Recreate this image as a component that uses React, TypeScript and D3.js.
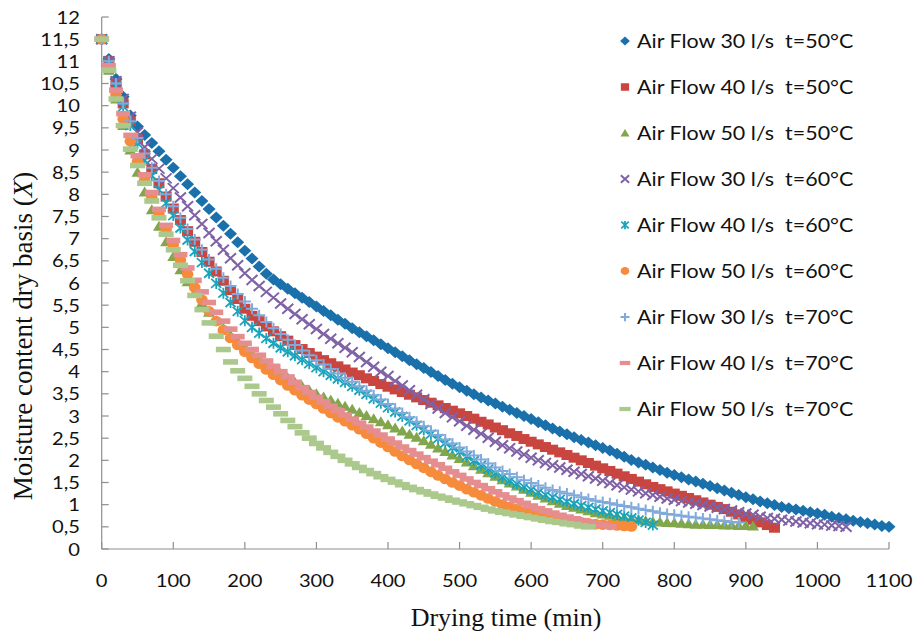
import React from 'react';
import * as d3 from 'd3';

// readings every 10 minutes, starting at t = 0
const STEP = 10;

const xTicks = [0, 100, 200, 300, 400, 500, 600, 700, 800, 900, 1000, 1100];
const yTicks = [0, 0.5, 1, 1.5, 2, 2.5, 3, 3.5, 4, 4.5, 5, 5.5, 6, 6.5, 7, 7.5, 8, 8.5, 9, 9.5, 10, 10.5, 11, 11.5, 12];

const af30t50 = [
  11.5, 11.05, 10.6, 10.2, 9.78, 9.53, 9.34, 9.16, 8.97, 8.78, 8.6, 8.41, 8.23, 8.04, 7.85, 7.67, 7.48, 7.29, 7.11, 6.92,
  6.73, 6.55, 6.37, 6.21, 6.08, 5.97, 5.87, 5.77, 5.67, 5.57, 5.47, 5.37, 5.27, 5.17, 5.08, 4.98, 4.89, 4.8, 4.71, 4.62,
  4.53, 4.44, 4.35, 4.26, 4.17, 4.08, 3.99, 3.9, 3.81, 3.73, 3.65, 3.57, 3.49, 3.42, 3.35, 3.28, 3.21, 3.14, 3.07, 3.0,
  2.93, 2.86, 2.79, 2.72, 2.65, 2.59, 2.52, 2.46, 2.4, 2.34, 2.28, 2.22, 2.15, 2.08, 2.01, 1.95, 1.9, 1.84, 1.78, 1.72,
  1.67, 1.62, 1.57, 1.52, 1.47, 1.42, 1.37, 1.32, 1.27, 1.22, 1.17, 1.12, 1.07, 1.03, 0.99, 0.95, 0.92, 0.89, 0.86, 0.83,
  0.8, 0.77, 0.73, 0.7, 0.67, 0.64, 0.61, 0.58, 0.55, 0.52, 0.5,
];
const af40t50 = [
  11.5, 11.0, 10.5, 10.05, 9.65, 9.25, 8.9, 8.57, 8.25, 7.95, 7.68, 7.42, 7.17, 6.93, 6.7, 6.48, 6.26, 6.05, 5.84, 5.64,
  5.42, 5.26, 5.14, 5.02, 4.91, 4.8, 4.7, 4.6, 4.51, 4.42, 4.34, 4.26, 4.19, 4.12, 4.05, 3.98, 3.92, 3.85, 3.79, 3.72,
  3.66, 3.6, 3.54, 3.48, 3.42, 3.36, 3.3, 3.24, 3.18, 3.12, 3.06, 3.0, 2.94, 2.87, 2.81, 2.74, 2.68, 2.61, 2.55, 2.48,
  2.42, 2.36, 2.3, 2.24, 2.18, 2.12, 2.06, 2.0, 1.94, 1.88, 1.82, 1.76, 1.7, 1.64, 1.58, 1.52, 1.46, 1.4, 1.35, 1.3,
  1.25, 1.2, 1.15, 1.1, 1.05, 1.0, 0.95, 0.9, 0.84, 0.78, 0.72, 0.66, 0.6, 0.54, 0.48,
];
const af50t50 = [
  11.5, 10.8, 10.15, 9.55, 9.0, 8.5, 8.05, 7.65, 7.28, 6.93, 6.6, 6.3, 6.03, 5.78, 5.55, 5.34, 5.15, 4.98, 4.82, 4.68,
  4.55, 4.42, 4.3, 4.18, 4.07, 3.96, 3.86, 3.76, 3.67, 3.58, 3.5, 3.43, 3.36, 3.29, 3.22, 3.15, 3.08, 3.01, 2.94, 2.87,
  2.8, 2.73, 2.66, 2.59, 2.52, 2.44, 2.36, 2.28, 2.2, 2.12, 2.04, 1.96, 1.88, 1.8, 1.72, 1.64, 1.56, 1.49, 1.42, 1.35,
  1.28, 1.21, 1.15, 1.09, 1.03, 0.98, 0.94, 0.9, 0.86, 0.82, 0.79, 0.76, 0.73, 0.7, 0.68, 0.66, 0.64, 0.62, 0.61, 0.6,
  0.59, 0.58, 0.57, 0.56, 0.56, 0.55, 0.55, 0.54, 0.54, 0.53, 0.53, 0.52,
];
const af30t60 = [
  11.5, 11.0, 10.55, 10.15, 9.75, 9.4, 9.07, 8.8, 8.58, 8.36, 8.14, 7.93, 7.73, 7.53, 7.33, 7.13, 6.94, 6.75, 6.56, 6.4,
  6.22, 6.07, 5.93, 5.8, 5.67, 5.54, 5.42, 5.3, 5.18, 5.07, 4.96, 4.85, 4.74, 4.64, 4.54, 4.44, 4.33, 4.22, 4.11, 4.0,
  3.9, 3.79, 3.69, 3.58, 3.48, 3.38, 3.27, 3.17, 3.07, 2.97, 2.88, 2.78, 2.69, 2.6, 2.51, 2.42, 2.34, 2.27, 2.2, 2.13,
  2.06, 2.0, 1.94, 1.89, 1.84, 1.79, 1.74, 1.69, 1.64, 1.59, 1.54, 1.49, 1.44, 1.39, 1.34, 1.3, 1.26, 1.22, 1.18, 1.14,
  1.11, 1.08, 1.05, 1.02, 0.99, 0.96, 0.93, 0.9, 0.87, 0.83, 0.8, 0.77, 0.73, 0.7, 0.68, 0.66, 0.64, 0.62, 0.6, 0.58,
  0.56, 0.55, 0.53, 0.52, 0.5,
];
const af40t60 = [
  11.5, 10.95, 10.45, 9.98, 9.55, 9.15, 8.77, 8.42, 8.1, 7.8, 7.52, 7.24, 6.97, 6.71, 6.46, 6.22, 5.99, 5.77, 5.56, 5.36,
  5.15, 5.0, 4.87, 4.75, 4.64, 4.54, 4.45, 4.36, 4.27, 4.18, 4.09, 4.0, 3.92, 3.84, 3.76, 3.67, 3.58, 3.49, 3.39, 3.29,
  3.19, 3.09, 2.99, 2.89, 2.79, 2.69, 2.59, 2.49, 2.39, 2.29, 2.19, 2.09, 1.99, 1.89, 1.8, 1.71, 1.62, 1.54, 1.47, 1.4,
  1.34, 1.28, 1.22, 1.17, 1.12, 1.07, 1.02, 0.98, 0.94, 0.9, 0.86, 0.82, 0.78, 0.74, 0.7, 0.65, 0.6, 0.54,
];
const af50t60 = [
  11.5, 10.85, 10.25, 9.7, 9.2, 8.74, 8.32, 7.93, 7.56, 7.2, 6.86, 6.52, 6.2, 5.9, 5.62, 5.36, 5.14, 4.94, 4.76, 4.6,
  4.45, 4.31, 4.18, 4.05, 3.93, 3.81, 3.69, 3.58, 3.47, 3.37, 3.27, 3.17, 3.07, 2.97, 2.88, 2.79, 2.7, 2.6, 2.5, 2.4,
  2.3, 2.2, 2.1, 2.01, 1.92, 1.83, 1.74, 1.66, 1.58, 1.5, 1.43, 1.35, 1.28, 1.21, 1.14, 1.07, 1.0, 0.95, 0.9, 0.85,
  0.81, 0.77, 0.73, 0.7, 0.67, 0.64, 0.62, 0.6, 0.58, 0.56, 0.55, 0.54, 0.53, 0.52, 0.51,
];
const af30t70 = [
  11.5, 11.0, 10.5, 10.05, 9.65, 9.27, 8.92, 8.6, 8.3, 8.0, 7.73, 7.47, 7.22, 6.98, 6.75, 6.53, 6.32, 6.12, 5.93, 5.75,
  5.58, 5.42, 5.27, 5.12, 4.98, 4.85, 4.72, 4.6, 4.48, 4.37, 4.26, 4.16, 4.06, 3.96, 3.86, 3.77, 3.67, 3.57, 3.47, 3.37,
  3.27, 3.17, 3.07, 2.97, 2.87, 2.77, 2.67, 2.57, 2.47, 2.38, 2.29, 2.2, 2.11, 2.02, 1.93, 1.84, 1.76, 1.69, 1.62, 1.55,
  1.49, 1.43, 1.38, 1.33, 1.29, 1.25, 1.21, 1.17, 1.13, 1.09, 1.06, 1.03, 1.0, 0.97, 0.94, 0.91, 0.88, 0.85, 0.82, 0.79,
  0.77, 0.75, 0.73, 0.71, 0.69, 0.67, 0.65, 0.63, 0.61, 0.6,
];
const af40t70 = [
  11.5, 10.9, 10.35, 9.82, 9.33, 8.87, 8.44, 8.04, 7.66, 7.3, 6.96, 6.64, 6.34, 6.06, 5.8, 5.56, 5.34, 5.14, 4.96, 4.79,
  4.64, 4.5, 4.37, 4.24, 4.12, 4.0, 3.88, 3.76, 3.64, 3.53, 3.42, 3.32, 3.22, 3.12, 3.02, 2.93, 2.84, 2.75, 2.66, 2.57,
  2.48, 2.39, 2.3, 2.22, 2.14, 2.06, 1.98, 1.9, 1.82, 1.74, 1.66, 1.58, 1.5, 1.43, 1.36, 1.29, 1.22, 1.15, 1.09, 1.03,
  0.97, 0.91, 0.86, 0.81, 0.76, 0.72, 0.68, 0.64, 0.6, 0.57, 0.54, 0.51,
];
const af50t70 = [
  11.5, 10.8, 10.15, 9.55, 9.02, 8.65, 8.25, 7.85, 7.47, 7.1, 6.75, 6.4, 6.05, 5.72, 5.4, 5.1, 4.8, 4.5, 4.22, 4.02,
  3.85, 3.67, 3.5, 3.35, 3.2, 3.05, 2.9, 2.76, 2.62, 2.5, 2.38, 2.28, 2.18, 2.09, 2.0, 1.92, 1.84, 1.77, 1.7, 1.63,
  1.57, 1.51, 1.45, 1.39, 1.34, 1.29, 1.24, 1.19, 1.15, 1.1, 1.06, 1.02, 0.98, 0.94, 0.9, 0.86, 0.83, 0.8, 0.77, 0.74,
  0.71, 0.68, 0.65, 0.62, 0.6, 0.57, 0.55, 0.52, 0.5,
];

const seriesNames = [
  'Air Flow 30 l/s  t=50°C',
  'Air Flow 40 l/s  t=50°C',
  'Air Flow 50 l/s  t=50°C',
  'Air Flow 30 l/s  t=60°C',
  'Air Flow 40 l/s  t=60°C',
  'Air Flow 50 l/s  t=60°C',
  'Air Flow 30 l/s  t=70°C',
  'Air Flow 40 l/s  t=70°C',
  'Air Flow 50 l/s  t=70°C',
];
const seriesValues = [af30t50, af40t50, af50t50, af30t60, af40t60, af50t60, af30t70, af40t70, af50t70];
const seriesColors = ['#1A70AA', '#C94540', '#82A64C', '#7F62A6', '#1AA3BC', '#F68B3C', '#80AADB', '#E58D8F', '#ABC98C'];
const seriesMarkers = ['diamond', 'square', 'triangle', 'x', 'star', 'circle', 'plus', 'dash', 'wdash'];

const W = 916;
const H = 637;

function Marker({ type, color, s = 1 }: { type: string; color: string; s?: number }) {
  switch (type) {
    case 'diamond':
      return <path d={`M0,${-6 * s}L${6.5 * s},0L0,${6 * s}L${-6.5 * s},0Z`} fill={color} />;
    case 'square':
      return <rect x={-5.5 * s} y={-5 * s} width={11 * s} height={10 * s} fill={color} />;
    case 'triangle':
      return <path d={`M0,${-5.5 * s}L${6 * s},${4.5 * s}L${-6 * s},${4.5 * s}Z`} fill={color} />;
    case 'x':
      return (
        <path d={`M${-5.5 * s},${-5 * s}L${5.5 * s},${5 * s}M${-5.5 * s},${5 * s}L${5.5 * s},${-5 * s}`}
          stroke={color} strokeWidth={2} fill="none" />
      );
    case 'star':
      return (
        <path d={`M${-5 * s},${-4.5 * s}L${5 * s},${4.5 * s}M${-5 * s},${4.5 * s}L${5 * s},${-4.5 * s}M0,${-5.5 * s}L0,${5.5 * s}`}
          stroke={color} strokeWidth={1.8} fill="none" />
      );
    case 'circle':
      return <ellipse rx={5.8 * s} ry={5.3 * s} fill={color} />;
    case 'plus':
      return (
        <path d={`M${-6 * s},0L${6 * s},0M0,${-5.5 * s}L0,${5.5 * s}`} stroke={color} strokeWidth={2} fill="none" />
      );
    case 'dash':
      return <rect x={-7 * s} y={-2.8 * s} width={14 * s} height={5.6 * s} fill={color} />;
    case 'wdash':
      return <rect x={-7.5 * s} y={-2.8 * s} width={15 * s} height={5.6 * s} fill={color} />;
    default:
      return null;
  }
}

export default function App() {
  const x = d3.scaleLinear().domain([0, 1100]).range([101.7, 889]);
  const y = d3.scaleLinear().domain([0, 12]).range([549, 17]);
  const axisColor = '#8E8E8E';
  const sans = 'Lato, "Open Sans", sans-serif';
  const serif = '"Liberation Serif", "Times New Roman", serif';
  const fmt = (v: number) => String(v).replace('.', ',');

  return (
    <svg width={W} height={H} style={{ position: 'absolute', left: 0, top: 0, background: '#fff' }}>
      {/* axes */}
      <line x1={x(0)} x2={x(0)} y1={y(12)} y2={y(0)} stroke={axisColor} strokeWidth={1.2} />
      <line x1={x(0)} x2={x(1100)} y1={y(0)} y2={y(0)} stroke={axisColor} strokeWidth={1.2} />
      {yTicks.map((t) => (
        <g key={'y' + t}>
          <line x1={x(0)} x2={x(0) + 7} y1={y(t)} y2={y(t)} stroke={axisColor} strokeWidth={1.2} />
          <text transform={`translate(80,${y(t) + 6.5}) scale(1.12,1)`} textAnchor="end"
            fontFamily={sans} fontSize={18} fill="#111">{fmt(t)}</text>
        </g>
      ))}
      {xTicks.map((t) => (
        <g key={'x' + t}>
          <line x1={x(t)} x2={x(t)} y1={y(0)} y2={y(0) - 7} stroke={axisColor} strokeWidth={1.2} />
          <text transform={`translate(${x(t)},587) scale(1.12,1)`} textAnchor="middle"
            fontFamily={sans} fontSize={18} fill="#111">{t}</text>
        </g>
      ))}

      {/* series */}
      {seriesValues.map((vals, si) => (
        <g key={'s' + si}>
          {vals.map((v, i) => (
            <g key={i} transform={`translate(${x(i * STEP)},${y(v)})`}>
              <Marker type={seriesMarkers[si]} color={seriesColors[si]} />
            </g>
          ))}
        </g>
      ))}

      {/* legend */}
      {seriesNames.map((name, i) => (
        <g key={'l' + i} transform={`translate(0,${41 + i * 46})`}>
          <g transform="translate(625,0)">
            <Marker type={seriesMarkers[i]} color={seriesColors[i]} s={0.75} />
          </g>
          <text transform="translate(637,6.8) scale(1.13,1)" fontFamily={sans} fontSize={19}
            fill="#111" style={{ whiteSpace: 'pre' }}>{name}</text>
        </g>
      ))}

      {/* axis titles */}
      <text x={506} y={626} textAnchor="middle" fontFamily={serif} fontSize={26} fill="#111">Drying time (min)</text>
      <text transform="translate(32,336) rotate(-90)" textAnchor="middle" fontFamily={serif} fontSize={27} fill="#111">
        Moisture content dry basis (<tspan fontStyle="italic">X</tspan>)
      </text>
    </svg>
  );
}
